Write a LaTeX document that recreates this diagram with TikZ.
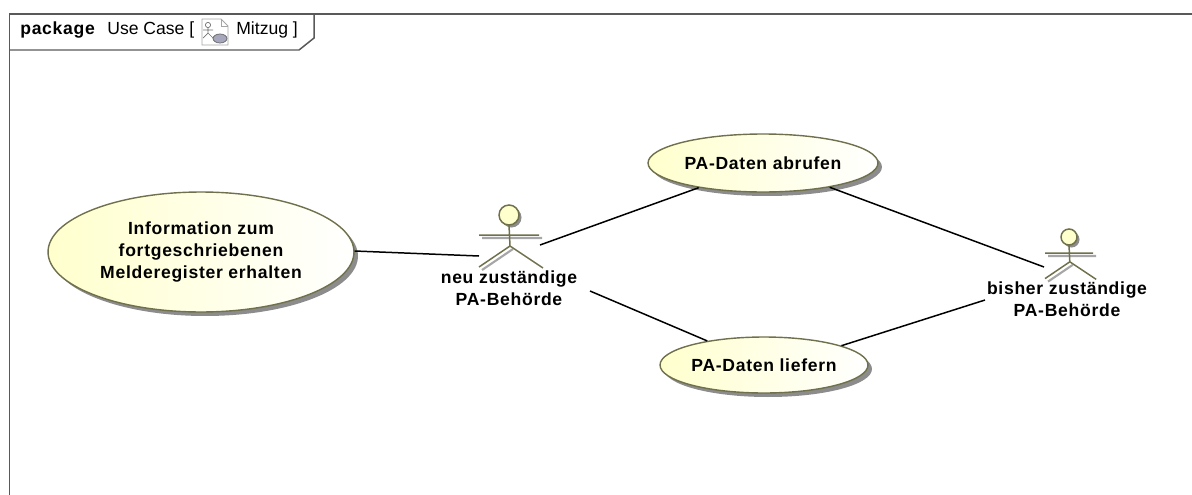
\documentclass[tikz,border=0pt]{standalone}
\usepackage{fontspec}
\setmainfont{Liberation Sans}
\newfontfamily\labelfont[LetterSpace=4]{Liberation Sans}
\usetikzlibrary{calc,positioning,shapes.geometric,shadows}
\definecolor{umlborder}{RGB}{112,112,76}
\definecolor{umlfill}{RGB}{255,255,205}
\tikzset{usecase/.style={shape=ellipse,draw=umlborder,line width=.8pt,left color=umlfill,right color=white,inner sep=0pt,align=center,font=\labelfont\fontsize{10pt}{12.4pt}\selectfont\bfseries,general shadow={fill=black!45,shadow xshift=.08cm,shadow yshift=-.08cm}},
actorlabel/.style={align=center,inner sep=0pt,font=\labelfont\fontsize{10pt}{12.4pt}\selectfont\bfseries},
link/.style={black,line width=.85pt},
framehead/.style={anchor=west,inner sep=0pt,font=\fontsize{10pt}{12pt}\selectfont}}

\begin{document}
\begin{tikzpicture}[x=.02cm,y=-.02cm]
\useasboundingbox (0,0) rectangle (1192,494);

% Frame
\draw[black!65,line width=.85pt] (9.5,520) -- (9.5,14) -- (1210,14);
\draw[black!65,line width=.85pt] (9.5,50) -- (299,50) -- (314,38) -- (314,14);
\node[framehead,font=\labelfont\fontsize{10pt}{12pt}\selectfont\bfseries] (framekind) at (20,30) {package};
\node[framehead] (framename) at (107,30) {Use Case [};
\node[framehead] (framediagram) at (236,30) {Mitzug ]};

% Icon
\draw[black!35,fill=white,line width=.5pt] (202,19) -- (221,19) -- (228,26) -- (228,45) -- (202,45) -- cycle;
\draw[black!35,line width=.4pt] (221,19) -- (221,26) -- (228,26);
\draw[black!55,line width=.4pt] (208,25) circle (2.6);
\draw[black!55,line width=.4pt] (208,28) -- (208,33) (203,30) -- (213,30) (203,38) -- (208,33) -- (213,38);
\draw[black!60,fill=blue!25!black!35,line width=.4pt] (220,38.5) ellipse (7 and 4.5);

% Use cases
\node[usecase,minimum width=6.12cm,minimum height=2.4cm] (info) at (201,252) {Information zum\\fortgeschriebenen\\Melderegister erhalten};
\node[usecase,minimum width=4.6cm,minimum height=1.16cm] (abrufen) at (763,163) {PA-Daten abrufen};
\node[usecase,minimum width=4.16cm,minimum height=1.12cm] (liefern) at (764,365) {PA-Daten liefern};

% Actors
\foreach \name/\x/\y/\s in {neu/509/215/1,bisher/1069/237/.8} {
\begin{scope}[shift={(\x,\y)}]
\draw[black!35,line width=1.2pt,shift={(3,3)}] (-30*\s,20*\s) -- (30*\s,20*\s) (\s*1,31*\s) -- (-30*\s,52*\s);
\fill[black!45] (2.5,2.5) circle (10*\s);
\draw[umlborder,line width=.85pt] (-30*\s,20*\s) -- (30*\s,20*\s) (0,10*\s) -- (\s*1,31*\s) (-30*\s,52*\s) -- (\s*1,31*\s) -- (34*\s,53*\s);
\node[shape=circle,draw=umlborder,fill=umlfill,line width=.85pt,inner sep=0pt,minimum size=\s*.4cm] (head\name) at (0,0) {};
\end{scope}
}
\node[actorlabel] (neulabel) at (509,288) {neu zuständige\\PA-Behörde};
\node[actorlabel] (bisherlabel) at (1067,299.5) {bisher zuständige\\PA-Behörde};

% Link ends
\coordinate (neuW) at (479,256);
\coordinate (neuNE) at (540,245);
\coordinate (neuSE) at (590,291);
\coordinate (bisherW) at (1044,267);
\coordinate (bisherSW) at (985,300);

% Links
\draw[link] (info.east) ++(0,-1) -- (neuW);
\draw[link] (neuNE) -- (abrufen.201);
\draw[link] (neuSE) -- (liefern.157);
\draw[link] (abrufen.-20) -- (bisherW);
\draw[link] (liefern.14.5) -- (bisherSW);

\end{tikzpicture}
\end{document}
